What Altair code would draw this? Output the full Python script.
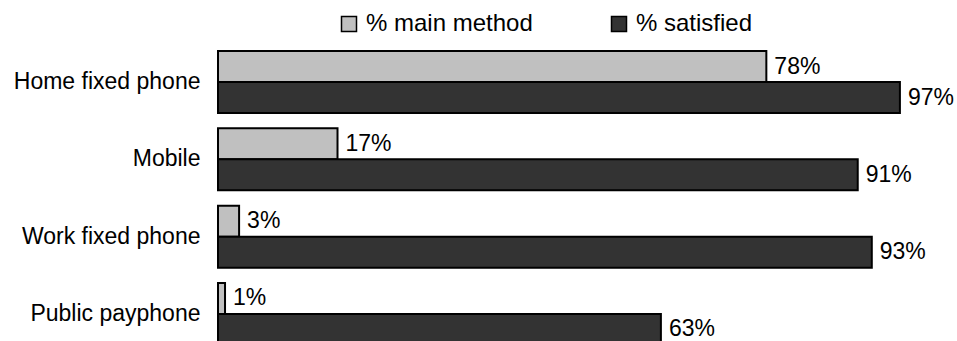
import altair as alt
import pandas as pd

FONT = "Liberation Sans"

methods = ["Home fixed phone", "Mobile", "Work fixed phone", "Public payphone"]
main_method = [78, 17, 3, 1]
satisfied = [97, 91, 93, 63]
series = ["% main method", "% satisfied"]
colors = ["#c0c0c0", "#333333"]

rows = []
for m, a, b in zip(methods, main_method, satisfied):
    rows.append({"method": m, "series": series[0], "value": a})
    rows.append({"method": m, "series": series[1], "value": b})
df = pd.DataFrame(rows)
df["label"] = df["value"].astype(str) + "%"

y = alt.Y(
    "method:N",
    sort=methods,
    title=None,
    scale=alt.Scale(paddingInner=0.198, paddingOuter=0, range=[0, 294]),
    axis=alt.Axis(
        domain=False, ticks=False, tickSize=0, labelPadding=18,
        labelFontSize=23, labelColor="black", labelFont=FONT, labelLimit=400,
    ),
)
y_off = alt.YOffset("series:N", sort=series, scale=alt.Scale(paddingInner=0, paddingOuter=0))
x = alt.X("value:Q", scale=alt.Scale(domain=[0, 100]), axis=None)

bars = alt.Chart(df).mark_bar(stroke="black", strokeWidth=2).encode(
    y=y,
    yOffset=y_off,
    x=x,
    color=alt.Color(
        "series:N",
        sort=series,
        scale=alt.Scale(domain=series, range=colors),
        legend=alt.Legend(
            title=None, orient="none", legendX=119, legendY=-39,
            direction="horizontal", symbolType="square", symbolSize=225,
            symbolStrokeColor="black", symbolStrokeWidth=1.5,
            labelFontSize=24, labelFont=FONT, labelColor="black", labelLimit=400,
            labelOffset=5, columnPadding=74, padding=0,
        ),
    ),
)

labels = alt.Chart(df).mark_text(
    align="left", baseline="middle", dx=8, fontSize=23, font=FONT, color="black"
).encode(y=y, yOffset=y_off, x=x, text="label:N")

chart = (
    (bars + labels)
    .properties(
        width=703,
        height=290,
        padding={"left": 218, "top": 51, "right": 36, "bottom": 0},
        autosize=alt.AutoSizeParams(type="none"),
    )
    .configure_view(stroke=None)
)

chart.save("out.html", embed_options={"renderer": "svg", "actions": False})
